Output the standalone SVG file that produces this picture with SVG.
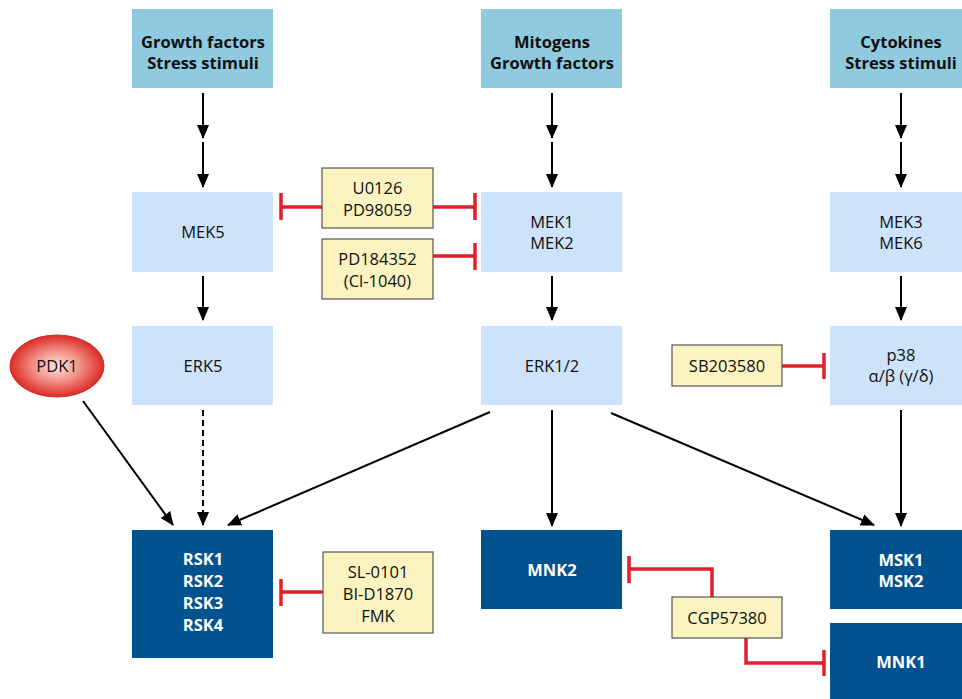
<svg xmlns="http://www.w3.org/2000/svg" width="962" height="699" viewBox="0 0 962 699">
<defs>
<style>
.top{fill:#8fcadf}
.mid{fill:#cde3fb}
.dark{fill:#02528f}
.inh{fill:#fbf4c1;stroke:#555;stroke-width:1.2}
.tb{font-family:"Open Sans","Liberation Sans",sans-serif;font-weight:bold;font-size:16.5px;fill:#111;text-anchor:middle}
.tw{font-family:"Open Sans","Liberation Sans",sans-serif;font-weight:bold;font-size:16.5px;fill:#fff;text-anchor:middle}
.t{font-family:"Open Sans","Liberation Sans",sans-serif;font-size:16.5px;fill:#111;text-anchor:middle}
.arr{stroke:#000;stroke-width:2;fill:none;marker-end:url(#ah)}
.red{stroke:#e21f2c;stroke-width:3.5;fill:none}
</style>
<marker id="ah" markerWidth="14" markerHeight="12" refX="13" refY="6" orient="auto" markerUnits="userSpaceOnUse">
<path d="M0,0 L14,6 L0,12 Z" fill="#000"/>
</marker>
<radialGradient id="pdk" cx="50%" cy="50%" r="50%">
<stop offset="0" stop-color="#fce6e2"/>
<stop offset="0.5" stop-color="#f29086"/>
<stop offset="1" stop-color="#dd2a25"/>
</radialGradient>
</defs>
<rect width="962" height="699" fill="#fff"/>

<g id="connectors">
<line class="arr" x1="203" y1="93" x2="203" y2="138"/>
<line class="arr" x1="203" y1="142" x2="203" y2="187"/>
<line class="arr" x1="552" y1="93" x2="552" y2="138"/>
<line class="arr" x1="552" y1="142" x2="552" y2="187"/>
<line class="arr" x1="901" y1="93" x2="901" y2="138"/>
<line class="arr" x1="901" y1="142" x2="901" y2="187"/>
<line class="arr" x1="203" y1="276" x2="203" y2="320"/>
<line class="arr" x1="552" y1="276" x2="552" y2="320"/>
<line class="arr" x1="901" y1="276" x2="901" y2="320"/>
<line class="arr" x1="203" y1="410" x2="203" y2="525" stroke-dasharray="6,4"/>
<line class="arr" x1="83" y1="401" x2="173" y2="525"/>
<line class="arr" x1="490" y1="412" x2="228" y2="525"/>
<line class="arr" x1="552" y1="410" x2="552" y2="526"/>
<line class="arr" x1="611" y1="413" x2="874" y2="525"/>
<line class="arr" x1="901" y1="410" x2="901" y2="526"/>
<path class="red" d="M322,207 H281 M281,193 V220"/>
<path class="red" d="M433,207 H475 M475,193 V220"/>
<path class="red" d="M433,256 H475 M475,243 V270"/>
<path class="red" d="M782,366 H824 M824,353 V379"/>
<path class="red" d="M323,592 H281 M281,579 V606"/>
<path class="red" d="M712,597 V569 H629 M629,556 V583"/>
<path class="red" d="M746,638 V663 H824 M824,650 V676"/>
</g>

<g id="gf1"><rect class="top" x="132" y="9" width="141" height="79"/><text class="tb" x="203" y="48">Growth factors</text><text class="tb" x="203" y="69">Stress stimuli</text></g>
<g id="mito"><rect class="top" x="481" y="9" width="141" height="79"/><text class="tb" x="552" y="48">Mitogens</text><text class="tb" x="552" y="69">Growth factors</text></g>
<g id="cyto"><rect class="top" x="830" y="9" width="132" height="79"/><text class="tb" x="901" y="48">Cytokines</text><text class="tb" x="901" y="69">Stress stimuli</text></g>

<g id="mek5"><rect class="mid" x="132" y="192" width="141" height="80"/><text class="t" x="203" y="238">MEK5</text></g>
<g id="mek12"><rect class="mid" x="481" y="192" width="141" height="80"/><text class="t" x="552" y="228">MEK1</text><text class="t" x="552" y="249">MEK2</text></g>
<g id="mek36"><rect class="mid" x="830" y="192" width="132" height="80"/><text class="t" x="901" y="228">MEK3</text><text class="t" x="901" y="249">MEK6</text></g>

<g id="erk5"><rect class="mid" x="132" y="326" width="141" height="79"/><text class="t" x="203" y="372">ERK5</text></g>
<g id="erk12"><rect class="mid" x="481" y="326" width="141" height="79"/><text class="t" x="552" y="372">ERK1/2</text></g>
<g id="p38"><rect class="mid" x="830" y="326" width="132" height="79"/><text class="t" x="901" y="361">p38</text><text class="t" x="901" y="382">α/β (γ/δ)</text></g>

<g id="pdk1"><ellipse cx="57" cy="366" rx="47" ry="31" fill="url(#pdk)" stroke="#d0302a" stroke-width="1"/><text class="t" x="57" y="372">PDK1</text></g>

<g id="rsk"><rect class="dark" x="132" y="530" width="141" height="128"/><text class="tw" x="203" y="565">RSK1</text><text class="tw" x="203" y="587">RSK2</text><text class="tw" x="203" y="609">RSK3</text><text class="tw" x="203" y="631">RSK4</text></g>
<g id="mnk2"><rect class="dark" x="481" y="530" width="141" height="79"/><text class="tw" x="552" y="576">MNK2</text></g>
<g id="msk"><rect class="dark" x="830" y="530" width="132" height="79"/><text class="tw" x="901" y="566">MSK1</text><text class="tw" x="901" y="587">MSK2</text></g>
<g id="mnk1"><rect class="dark" x="830" y="623" width="132" height="76"/><text class="tw" x="901" y="668">MNK1</text></g>

<g id="u0126"><rect class="inh" x="322" y="168" width="111" height="60"/><text class="t" x="377.5" y="194">U0126</text><text class="t" x="377.5" y="216">PD98059</text></g>
<g id="pd184352"><rect class="inh" x="322" y="239" width="111" height="60"/><text class="t" x="377.5" y="265">PD184352</text><text class="t" x="377.5" y="287">(Cl-1040)</text></g>
<g id="sb203580"><rect class="inh" x="672" y="345" width="110" height="41"/><text class="t" x="727" y="372">SB203580</text></g>
<g id="sl0101"><rect class="inh" x="323" y="552" width="110" height="81"/><text class="t" x="378" y="578">SL-0101</text><text class="t" x="378" y="600">BI-D1870</text><text class="t" x="378" y="622">FMK</text></g>
<g id="cgp"><rect class="inh" x="672" y="597" width="110" height="41"/><text class="t" x="727" y="624">CGP57380</text></g>
</svg>
